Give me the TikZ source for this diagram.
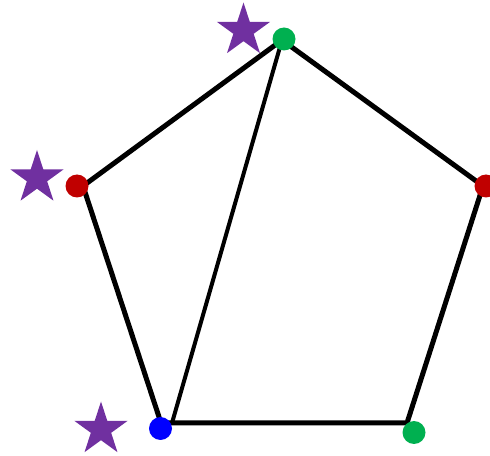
\documentclass[tikz,border=0pt]{standalone}
\usetikzlibrary{shapes.geometric}
\definecolor{dotgreen}{HTML}{00B050}
\definecolor{dotred}{HTML}{C00000}
\definecolor{dotblue}{HTML}{0000FF}
\definecolor{starpurple}{HTML}{7030A0}
\tikzset{
  edgethick/.style={line width=3.75pt, black},
  edgethin/.style={line width=3pt, black},
  dotnode/.style={circle, fill=#1, draw=none, inner sep=0pt, minimum size=17.25pt},
  starnode/.style={star, star points=5, star point ratio=2.618, fill=starpurple, draw=none, inner sep=0pt, minimum size=42pt},
}
\begin{document}
\begin{tikzpicture}[x=0.75pt,y=-0.75pt]
\useasboundingbox (0,0) rectangle (490,456);
\clip (0,0) rectangle (490,456);
% pentagon vertices
\coordinate (vT) at (282,40);
\coordinate (vR) at (483,186);
\coordinate (vBR) at (407,423);
\coordinate (vBL) at (161,423);
\coordinate (vL) at (83,186);
\coordinate (vD) at (172,423);
\draw[edgethick] (vT) -- (vR) -- (vBR) -- (vBL) -- (vL) -- cycle;
\draw[edgethin] (vT) -- (vD);
% dots
\node[dotnode=dotgreen] (gTop) at (284,39) {};
\node[dotnode=dotred] (rLeft) at (77,186) {};
\node[dotnode=dotred] (rRight) at (486,186) {};
\node[dotnode=dotblue] (bBL) at (160.5,428.5) {};
\node[dotnode=dotgreen] (gBR) at (414,432.5) {};
% stars
\node[starnode] (s1) at (243.5,30.5) {};
\node[starnode] (s2) at (37,178) {};
\node[starnode] (s3) at (101,429.5) {};
\end{tikzpicture}
\end{document}
